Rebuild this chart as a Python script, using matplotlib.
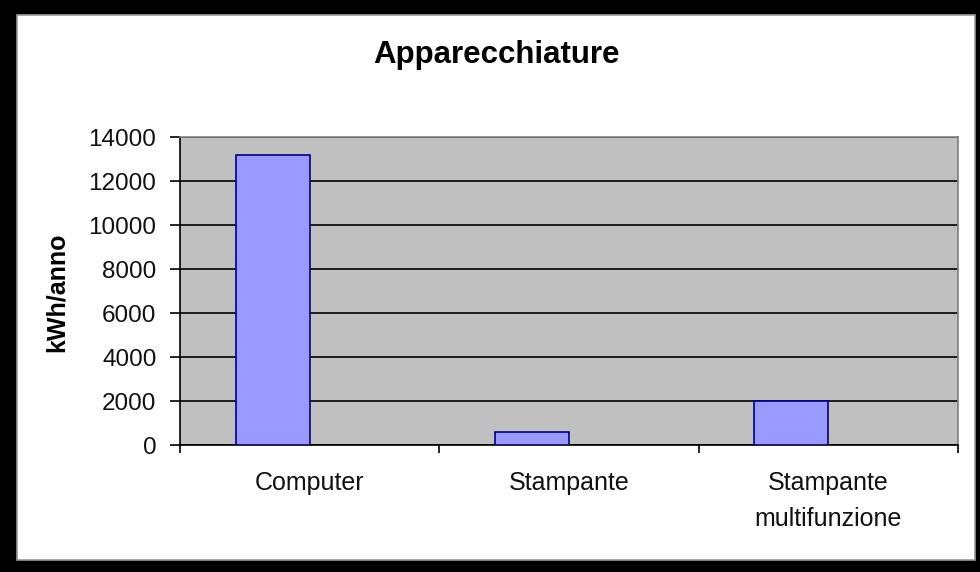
import matplotlib
matplotlib.use("Agg")
import matplotlib.pyplot as plt
from matplotlib.patches import Rectangle
import numpy as np

categories = ["Computer", "Stampante", "Stampante\nmultifunzione"]
values = [13200, 600, 2000]
yticks = [0, 2000, 4000, 6000, 8000, 10000, 12000, 14000]
title = "Apparecchiature"
ylabel = "kWh/anno"

plt.rcParams['font.family'] = ['Liberation Sans', 'DejaVu Sans']

W, H = 980, 572
fig = plt.figure(figsize=(W / 100, H / 100), dpi=100)
fig.patch.set_facecolor('black')
# white chart area inside the black frame
fig.patches.append(Rectangle((17 / W, 1 - 560 / H), (975 - 17) / W, (560 - 15) / H,
                             transform=fig.transFigure, facecolor='white',
                             edgecolor='#9a9a9a', linewidth=1.2, zorder=-5))

ax = fig.add_axes([180 / W, 1 - 445 / H, (958 - 180) / W, (445 - 137) / H])
ax.set_zorder(2)
ax.set_facecolor('#C0C0C0')

x = np.arange(len(categories))
bw = 1 / 3.5
ax.bar(x - bw / 2, values, width=bw, color='#9999FF', edgecolor='#000080',
       linewidth=1.2, zorder=3)

ax.set_xlim(-0.5, len(categories) - 0.5)
ax.set_ylim(0, 14000)
ax.set_yticks(yticks)
ax.set_yticklabels([str(v) for v in yticks])
ax.yaxis.grid(True, color='black', linewidth=1.2, zorder=1)
ax.set_axisbelow(True)

ax.set_xticks(x)
ax.set_xticklabels(categories, fontsize=18, linespacing=1.6)
ax.set_xticks(np.arange(-0.5, len(categories), 1.0), minor=True)
ax.tick_params(axis='x', which='major', length=0, pad=19, colors='#111111')
ax.tick_params(axis='x', which='minor', length=6, width=1.2, color='black', direction='out')
ax.tick_params(axis='y', which='major', length=7, width=1.2, direction='out',
               labelsize=17.5, pad=10, labelcolor='#111111')

for s in ['left', 'bottom']:
    ax.spines[s].set_color('black')
    ax.spines[s].set_linewidth(1.2)
for s in ['top', 'right']:
    ax.spines[s].set_color('#808080')
    ax.spines[s].set_linewidth(1.2)

fig.text(496.5 / W, 1 - 63 / H, title, ha='center', va='baseline',
         fontsize=22.5, fontweight='bold', zorder=3)
fig.text(57 / W, 1 - 292.5 / H, ylabel, ha='center', va='center', rotation=90,
         fontsize=18, fontweight='bold', zorder=3)

fig.savefig('out.png', dpi=100, facecolor=fig.get_facecolor())
